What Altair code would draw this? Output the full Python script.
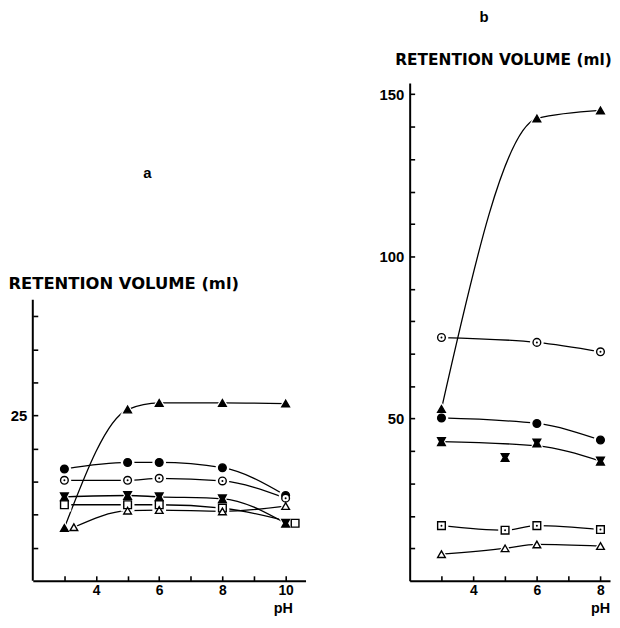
import altair as alt
import pandas as pd

# ---------------- data ----------------
# panel a  (retention volume, ml)
A_PH = [3, 5, 6, 8, 10]
A_FILLED_TRIANGLE = [8.0, 25.9, 26.9, 26.9, 26.8]
A_FILLED_CIRCLE = [16.9, 17.9, 17.9, 17.1, 12.9]
A_DOTTED_CIRCLE = [15.2, 15.2, 15.5, 15.1, 12.5]
A_FILLED_SQUARE = [12.7, 12.9, 12.7, 12.4, 8.7]
A_OPEN_SQUARE_PH = [3, 5, 6, 8, 10.3]
A_OPEN_SQUARE = [11.5, 11.5, 11.5, 11.0, 8.7]
A_OPEN_TRIANGLE_PH = [3.3, 5, 6, 8, 10]
A_OPEN_TRIANGLE = [8.1, 10.6, 10.7, 10.5, 11.3]

# panel b
B_PH = [3, 6, 8]
B_FILLED_TRIANGLE = [53.0, 142.5, 145.0]
B_OPEN_CIRCLE = [75.0, 73.5, 70.6]
B_FILLED_CIRCLE = [50.2, 48.5, 43.4]
B_FILLED_SQUARE_PH = [3, 5, 6, 8]
B_FILLED_SQUARE = [42.9, 38.0, 42.5, 36.9]
B_FILLED_SQUARE_LINE_PH = [3, 6, 8]
B_FILLED_SQUARE_LINE = [42.9, 41.6, 36.9]
B_PH4 = [3, 5, 6, 8]
B_OPEN_SQUARE = [17.0, 15.6, 17.0, 15.8]
B_OPEN_TRIANGLE = [8.2, 10.0, 11.2, 10.7]

# axes
A_X_DOMAIN = [2, 10.63]
A_Y_DOMAIN = [0, 75.3]
A_Y_AXIS_TOP = 42.5
A_X_LABELS = [4, 6, 8, 10]
A_X_TICKS = [3, 4, 5, 6, 7, 8, 9, 10]
A_Y_LABELS = [25]
A_Y_TICKS = [5, 10, 15, 20, 25, 30, 35, 40]

B_X_DOMAIN = [2, 8.3]
B_Y_DOMAIN = [0, 153.5]
B_X_LABELS = [4, 6, 8]
B_X_TICKS = [3, 4, 5, 6, 7, 8]
B_Y_LABELS = [50, 100, 150]
B_Y_TICKS = [10, 20, 30, 40, 50, 60, 70, 80, 90, 100, 110, 120, 130, 140, 150]

Y_TITLE = "RETENTION VOLUME (ml)"
X_TITLE = "pH"

# ---------------- styling ----------------
SERIES = ["filled triangle", "filled circle", "dotted circle",
          "filled square", "open square", "open triangle"]
SHAPES = ["triangle-up", "circle", "circle",
          "M-1,-1L1,-1L0.45,0L1,1L-1,1L-0.45,0Z", "square", "triangle-up"]
FILLS = ["black", "black", "white", "black", "white", "white"]

TITLE_FONT = "DejaVu Sans"
LABEL_FONT = "Liberation Sans"
W_A, W_B, H = 275, 202, 502


def rows(series, ph, vals):
    return [dict(series=series, ph=p, v=v) for p, v in zip(ph, vals)]


a_pts = pd.DataFrame(
    rows("filled triangle", A_PH, A_FILLED_TRIANGLE)
    + rows("filled circle", A_PH, A_FILLED_CIRCLE)
    + rows("dotted circle", A_PH, A_DOTTED_CIRCLE)
    + rows("filled square", A_PH, A_FILLED_SQUARE)
    + rows("open square", A_OPEN_SQUARE_PH, A_OPEN_SQUARE)
    + rows("open triangle", A_OPEN_TRIANGLE_PH, A_OPEN_TRIANGLE)
)
a_lines = a_pts.copy()
a_dots = a_pts[a_pts.series == "dotted circle"]

b_pts = pd.DataFrame(
    rows("filled triangle", B_PH, B_FILLED_TRIANGLE)
    + rows("dotted circle", B_PH, B_OPEN_CIRCLE)
    + rows("filled circle", B_PH, B_FILLED_CIRCLE)
    + rows("filled square", B_FILLED_SQUARE_PH, B_FILLED_SQUARE)
    + rows("open square", B_PH4, B_OPEN_SQUARE)
    + rows("open triangle", B_PH4, B_OPEN_TRIANGLE)
)
b_lines = pd.DataFrame(
    rows("filled triangle", B_PH, B_FILLED_TRIANGLE)
    + rows("dotted circle", B_PH, B_OPEN_CIRCLE)
    + rows("filled circle", B_PH, B_FILLED_CIRCLE)
    + rows("filled square", B_FILLED_SQUARE_LINE_PH, B_FILLED_SQUARE_LINE)
    + rows("open square", B_PH4, B_OPEN_SQUARE)
    + rows("open triangle", B_PH4, B_OPEN_TRIANGLE)
)
b_dots = b_pts[b_pts.series.isin(["dotted circle", "open square"])]


def panel(lines_df, pts_df, dots_df, xdom, ydom, width, xlab, xtick, ylab, ytick,
          ytitle_x, ytitle_y, ytitle_size, xtitle_x, xtitle_y, y_domain_line,
          title, axis_top=None):
    xs = alt.Scale(domain=xdom, nice=False, zero=False)
    ys = alt.Scale(domain=ydom, nice=False, zero=False)
    common = dict(labelFont=LABEL_FONT, labelFontWeight="bold",
                  labelColor="black", titleColor="black", grid=False,
                  domainColor="black", tickColor="black")
    x_lab_axis = alt.Axis(values=xlab, orient="bottom", tickSize=0, domain=True,
                          domainWidth=2, labelPadding=3, labelFontSize=14,
                          format="d",
                          title=X_TITLE, titleX=xtitle_x, titleY=xtitle_y,
                          titleAlign="center", titleBaseline="alphabetic",
                          titleFont=LABEL_FONT, titleFontSize=14.5,
                          titleFontWeight="bold", **common)
    x_tick_axis = alt.Axis(values=xtick, orient="top", offset=-H, labels=False,
                           domain=False, tickSize=5, tickWidth=1.6, title=None,
                           **common)
    y_lab_axis = alt.Axis(values=ylab, orient="left", tickSize=0,
                          domain=y_domain_line, domainWidth=2, labelPadding=6,
                          labelFontSize=15, format="d", title=Y_TITLE,
                          titleAngle=0, titleX=ytitle_x, titleY=ytitle_y,
                          titleAlign="left", titleBaseline="alphabetic",
                          titleFont=TITLE_FONT, titleFontSize=ytitle_size,
                          titleFontWeight="bold", **common)
    y_tick_axis = alt.Axis(values=ytick, orient="right", offset=-width,
                           labels=False, domain=False, tickSize=5,
                           tickWidth=1.6, title=None, **common)

    shape = alt.Shape("series:N", scale=alt.Scale(domain=SERIES, range=SHAPES),
                      legend=None)
    fill = alt.Fill("series:N", scale=alt.Scale(domain=SERIES, range=FILLS),
                    legend=None)

    lines = alt.Chart(lines_df).mark_line(
        interpolate="monotone", color="black", strokeWidth=1.3
    ).encode(
        x=alt.X("ph:Q", scale=xs, axis=x_lab_axis),
        y=alt.Y("v:Q", scale=ys, axis=y_lab_axis),
        detail="series:N",
    )
    halo = alt.Chart(pts_df).mark_point(
        filled=True, color="white", stroke="white", strokeWidth=2, opacity=1,
        size=140,
    ).encode(
        x=alt.X("ph:Q", scale=xs, axis=None),
        y=alt.Y("v:Q", scale=ys, axis=None),
        shape=shape,
    )
    marks = alt.Chart(pts_df).mark_point(
        filled=True, stroke="black", strokeWidth=1.4, opacity=1, size=60,
    ).encode(
        x=alt.X("ph:Q", scale=xs, axis=x_tick_axis),
        y=alt.Y("v:Q", scale=ys, axis=y_tick_axis),
        shape=shape, fill=fill,
    )
    dots = alt.Chart(dots_df).mark_circle(color="black", size=4, opacity=1).encode(
        x=alt.X("ph:Q", scale=xs, axis=None),
        y=alt.Y("v:Q", scale=ys, axis=None),
    )
    layers = [lines, halo, marks, dots]
    if axis_top is not None:
        rule_df = pd.DataFrame({"lo": [0], "hi": [axis_top]})
        rule = alt.Chart(rule_df).mark_rule(color="black", strokeWidth=2).encode(
            x=alt.value(0),
            y=alt.Y("lo:Q", scale=ys, axis=None),
            y2="hi:Q",
        )
        layers.append(rule)
    return alt.layer(*layers).resolve_axis(x="independent", y="independent").properties(
        width=width, height=H, title=title
    )


panel_a = panel(
    a_lines, a_pts, a_dots, A_X_DOMAIN, A_Y_DOMAIN, W_A, A_X_LABELS, A_X_TICKS,
    A_Y_LABELS, A_Y_TICKS, -25, 207, 16.5, 252, 32, False,
    alt.TitleParams("a", font=LABEL_FONT, fontSize=15, fontWeight="bold",
                    color="black", anchor="middle", dx=-22, dy=103),
    axis_top=A_Y_AXIS_TOP,
)
panel_b = panel(
    b_lines, b_pts, b_dots, B_X_DOMAIN, B_Y_DOMAIN, W_B, B_X_LABELS, B_X_TICKS,
    B_Y_LABELS, B_Y_TICKS, -15, -19, 15.5, 192, 32, True,
    alt.TitleParams("b", font=LABEL_FONT, fontSize=15, fontWeight="bold",
                    color="black", anchor="middle", dx=-26, offset=27),
)

chart = alt.hconcat(panel_a, panel_b, spacing=105, bounds="flush").properties(
    padding={"left": 0, "top": 0, "right": 0, "bottom": 0},
    background="white",
).configure_view(stroke=None)

chart.save("out.html", embed_options={"renderer": "svg", "actions": False})
